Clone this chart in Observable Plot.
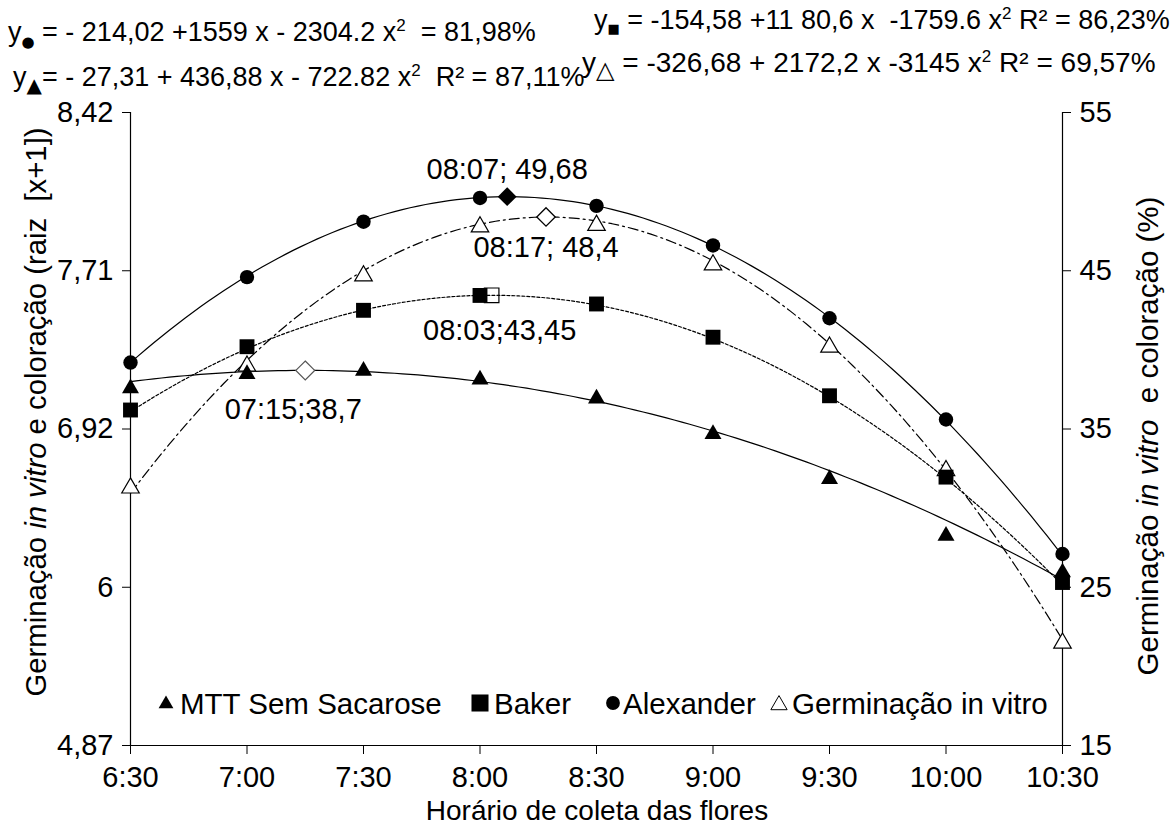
<!DOCTYPE html>
<html><head><meta charset="utf-8">
<script src="https://cdn.jsdelivr.net/npm/d3@7"></script>
<script src="https://cdn.jsdelivr.net/npm/@observablehq/plot@0.6"></script>
<style>body{margin:0;background:#fff;} #chart{position:relative;width:1173px;height:830px;}</style>
</head><body><div id="chart"></div>
<script>
// ---- data ----
const times = ["6:30","7:00","7:30","8:00","8:30","9:00","9:30","10:00","10:30"];
const mttValues = [37.7, 38.6, 38.8, 38.25, 37.05, 34.8, 31.96, 28.38, 26.06];
const bakerValues = [36.2, 40.2, 42.5, 43.44, 42.9, 40.8, 37.1, 31.96, 25.3];
const alexanderValues = [39.2, 44.6, 48.1, 49.6, 49.1, 46.6, 42.0, 35.6, 27.1];
const germinacaoValues = [31.4, 39.1, 44.8, 47.9, 48.0, 45.5, 40.3, 32.5, 21.6];

const coefMTT = [-27.31, 436.88, -722.82];
const coefBaker = [-154.58, 1180.6, -1759.6];
const coefAlexander = [-214.02, 1559, -2304.2];
const coefGerminacao = [-326.68, 2172.2, -3145];

const rightTicks = [15, 25, 35, 45, 55];
const leftTickLabels = ["4,87", "6", "6,92", "7,71", "8,42"];

const vertexSeries = ["Alexander", "Germinacao", "Baker", "MTT"];
const vertexTimes = ["8:07", "8:17", "8:03", "7:15"];
const vertexValues = [49.68, 48.4, 43.45, 38.7];
const vertexLabels = ["08:07; 49,68", "08:17; 48,4", "08:03;43,45", "07:15;38,7"];

const legendNames = ["MTT Sem Sacarose", "Baker", "Alexander", "Germinação in vitro"];

// ---- helpers ----
const FONT = "'Liberation Sans', Arial, sans-serif";
const toMin = s => { const [h, m] = s.split(":").map(Number); return h * 60 + m; };
const tMin = times.map(toMin);
const x0 = tMin[0], x1 = tMin[tMin.length - 1];
const series = (vals) => vals.map((v, i) => ({x: tMin[i], y: v}));
const curve = (c) => d3.range(x0, x1 + 1, 2).map(m => { const t = m / 1440; return {x: m, y: c[0] + c[1] * t + c[2] * t * t}; });
const timeLabel = new Map(tMin.map((m, i) => [m, times[i]]));
const leftLabel = new Map(rightTicks.map((t, i) => [t, leftTickLabels[i]]));
const vertices = vertexSeries.map((s, i) => ({s, x: toMin(vertexTimes[i]), y: vertexValues[i], label: vertexLabels[i]}));
const vOf = s => vertices.filter(d => d.s === s);

const plot = Plot.plot({
  width: 1173, height: 830,
  marginLeft: 130, marginRight: 111, marginTop: 112, marginBottom: 85,
  style: {fontFamily: FONT, fontSize: "29px", color: "black", background: "white"},
  x: {domain: [x0, x1]},
  y: {domain: [15, 55]},
  marks: [
    Plot.axisY({ticks: rightTicks, tickFormat: d => leftLabel.get(d), anchor: "left", tickSize: 8, tickPadding: 9, label: null, fontSize: 29}),
    Plot.axisY({ticks: rightTicks, tickFormat: d => String(d), anchor: "right", tickSize: 8, tickPadding: 9, label: null, fontSize: 29}),
    Plot.axisX({ticks: tMin, tickFormat: d => timeLabel.get(d), tickSize: 9, tickPadding: 12, label: null, fontSize: 29}),
    Plot.ruleX([x0, x1], {stroke: "black", strokeWidth: 1.2}),
    Plot.ruleY([15], {stroke: "black", strokeWidth: 1.2}),
    Plot.line(curve(coefMTT), {x: "x", y: "y", stroke: "black", strokeWidth: 1.2}),
    Plot.line(curve(coefAlexander), {x: "x", y: "y", stroke: "black", strokeWidth: 1.2}),
    Plot.line(curve(coefBaker), {x: "x", y: "y", stroke: "black", strokeWidth: 1.2, strokeDasharray: "3,2"}),
    Plot.line(curve(coefGerminacao), {x: "x", y: "y", stroke: "black", strokeWidth: 1.2, strokeDasharray: "10,4,2,4"}),
    Plot.dot(series(germinacaoValues), {x: "x", y: "y", symbol: "triangle", r: 6.5, dy: 2, fill: "white", stroke: "black", strokeWidth: 1.2}),
    Plot.dot(series(mttValues), {x: "x", y: "y", symbol: "triangle", r: 6.3, dy: 2, fill: "black"}),
    Plot.dot(series(bakerValues), {x: "x", y: "y", symbol: "square", r: 8.4, fill: "black"}),
    Plot.dot(series(alexanderValues), {x: "x", y: "y", symbol: "circle", r: 7.2, fill: "black"}),
    Plot.dot(vOf("Alexander"), {x: "x", y: "y", symbol: "diamond2", r: 8.5, fill: "black"}),
    Plot.dot(vOf("Germinacao"), {x: "x", y: "y", symbol: "diamond2", r: 8.3, fill: "white", stroke: "black", strokeWidth: 1.3}),
    Plot.dot(vOf("Baker"), {x: "x", y: "y", symbol: "square", r: 8.2, fill: "none", stroke: "black", strokeWidth: 1.2}),
    Plot.dot(vOf("MTT"), {x: "x", y: "y", symbol: "diamond2", r: 8.5, fill: "white", stroke: "#555", strokeWidth: 1.2}),
    Plot.text(vOf("Alexander"), {x: "x", y: "y", text: "label", dy: -27, fontSize: 29}),
    Plot.text(vOf("Germinacao"), {x: "x", y: "y", text: "label", dy: 31, fontSize: 29}),
    Plot.text(vOf("Baker"), {x: "x", y: "y", text: "label", dx: 8, dy: 35, fontSize: 29}),
    Plot.text(vOf("MTT"), {x: "x", y: "y", text: "label", dx: -12, dy: 39, fontSize: 29})
  ]
});
document.getElementById("chart").appendChild(plot);
const svg = d3.select(plot);

// ---- equations ----
function drawEq(x, y, size, segs) {
  const t = svg.append("text").attr("x", x).attr("y", y).attr("font-size", size)
    .attr("text-anchor", "start").attr("font-family", FONT).style("white-space", "pre").attr("fill", "black");
  let shift = 0;
  for (const s of segs) {
    if (typeof s === "string") { t.append("tspan").attr("dy", -shift).text(s); shift = 0; }
    else if (s.sub) { t.append("tspan").attr("dy", s.dy - shift).attr("font-size", s.size).attr("font-family", "DejaVu Sans").text(s.sub); shift = s.dy; }
    else if (s.sup) { t.append("tspan").attr("dy", -10 - shift).attr("font-size", 17).text(s.sup); shift = -10; }
  }
}
drawEq(8, 41, 27, ["y", {sub: "●", size: 15, dy: 6}, " = - 214,02 +1559 x - 2304.2 x", {sup: "2"}, "  = 81,98%"]);
drawEq(13, 86, 27, ["y", {sub: "▲", size: 20, dy: 6}, "= - 27,31 + 436,88 x - 722.82 x", {sup: "2"}, "  R² = 87,11%"]);
drawEq(594, 29, 27, ["y", {sub: "■", size: 13, dy: 4}, " = -154,58 +11 80,6 x  -1759.6 x", {sup: "2"}, " R² = 86,23%"]);
drawEq(582, 72, 28, ["y", {sub: "△", size: 24, dy: 6}, " = -326,68 + 2172,2 x -3145 x", {sup: "2"}, " R² = 69,57%"]);

// ---- legend ----
const lg = svg.append("g").attr("font-family", FONT).attr("font-size", 29.5).attr("text-anchor", "start");
const legY = 714;
const legSymbols = [
  {sym: d3.symbolTriangle, size: 95, fill: "black", stroke: "none", x: 166, y: 704},
  {sym: d3.symbolSquare, size: 290, fill: "black", stroke: "none", x: 480, y: 703},
  {sym: d3.symbolCircle, size: 150, fill: "black", stroke: "none", x: 613, y: 703},
  {sym: d3.symbolTriangle, size: 115, fill: "white", stroke: "black", x: 779, y: 705}
];
const legTextX = [180, 494, 623, 792];
legendNames.forEach((n, i) => {
  const s = legSymbols[i];
  lg.append("path").attr("d", d3.symbol(s.sym, s.size)()).attr("transform", `translate(${s.x},${s.y})`)
    .attr("fill", s.fill).attr("stroke", s.stroke).attr("stroke-width", 1);
  lg.append("text").attr("x", legTextX[i]).attr("y", legY).attr("text-anchor", "start").text(n);
});

// ---- axis titles ----
function rotTitle(cx, cy, size, parts) {
  const t = svg.append("text").attr("transform", `translate(${cx},${cy}) rotate(-90)`)
    .attr("text-anchor", "middle").attr("dominant-baseline", "middle")
    .attr("font-family", FONT).attr("font-size", size).style("white-space", "pre");
  parts.forEach(([txt, it]) => t.append("tspan").attr("font-style", it ? "italic" : "normal").text(txt));
}
rotTitle(38, 412, 29.3, [["Germinação ", false], ["in vitro", true], [" e coloração (raiz  [x+1])", false]]);
rotTitle(1150, 436, 29.5, [["Germinação ", false], ["in vitro", true], ["  e coloração (%)", false]]);
svg.append("text").attr("x", 597).attr("y", 820).attr("text-anchor", "middle")
  .attr("font-family", FONT).attr("font-size", 28).text("Horário de coleta das flores");
</script></body></html>
